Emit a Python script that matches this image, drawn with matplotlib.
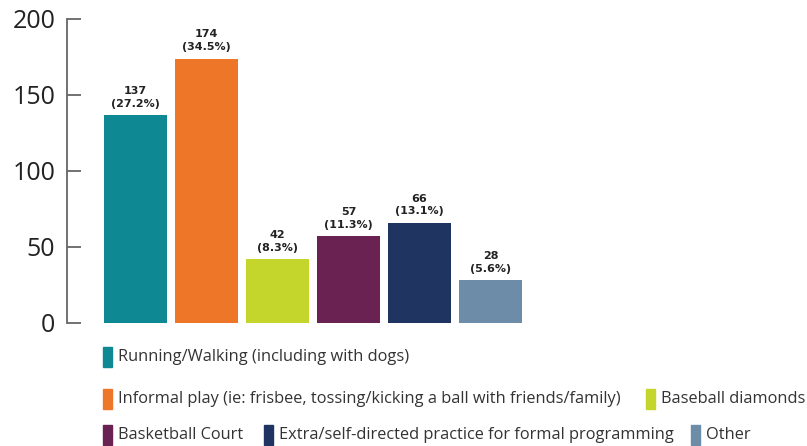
import matplotlib
matplotlib.use("Agg")
import matplotlib.pyplot as plt
from matplotlib.patches import Rectangle

categories = [
    "Running/Walking (including with dogs)",
    "Informal play (ie: frisbee, tossing/kicking a ball with friends/family)",
    "Baseball diamonds",
    "Basketball Court",
    "Extra/self-directed practice for formal programming",
    "Other",
]
counts = [137, 174, 42, 57, 66, 28]
percents = [27.2, 34.5, 8.3, 11.3, 13.1, 5.6]
colors = ["#0e8893", "#ee7628", "#c4d62c", "#6a2253", "#1f3461", "#6c8ca8"]
yticks = [0, 50, 100, 150, 200]

W, H = 807, 446
fig = plt.figure(figsize=(W / 100, H / 100), dpi=100)
fig.patch.set_facecolor("white")

ax = fig.add_axes([67 / W, 1 - 323 / H, (530 - 67) / W, (323 - 19) / H])
x = list(range(len(counts)))
ax.bar(x, counts, width=0.89, color=colors)
ax.set_xlim(-0.965, 5.556)
ax.set_ylim(0, 200)

for s in ["top", "right", "bottom"]:
    ax.spines[s].set_visible(False)
ax.spines["left"].set_color("#666666")
ax.spines["left"].set_linewidth(1.3)
ax.set_xticks([])
ax.set_yticks(yticks)
ax.tick_params(axis="y", direction="in", length=10, width=1.3, color="#666666",
               labelsize=18, labelcolor="#222222", pad=8.5)
for lab in ax.get_yticklabels():
    lab.set_fontfamily("Open Sans")

for xi, c, p in zip(x, counts, percents):
    ax.annotate(f"{c}\n({p}%)", (xi, c), xytext=(0, 4.5), textcoords="offset points",
                ha="center", va="bottom", fontsize=8, fontweight="bold",
                family=["Liberation Sans Narrow", "DejaVu Sans"], color="#222222",
                linespacing=1.35)

# legend rows: (category index, marker left px, row centre px)
legend_layout = [
    (0, 103, 357),
    (1, 103, 399),
    (2, 646, 399),
    (3, 103, 435),
    (4, 264, 435),
    (5, 691, 435),
]
for idx, px, py in legend_layout:
    fig.patches.append(Rectangle((px / W, 1 - (py + 10) / H), 9 / W, 20 / H,
                                 transform=fig.transFigure, color=colors[idx]))
    fig.text((px + 15) / W, 1 - py / H, categories[idx], ha="left", va="center",
             fontsize=11.8, family="Open Sans", color="#333333")

fig.savefig("out.png", dpi=100, facecolor="white")
